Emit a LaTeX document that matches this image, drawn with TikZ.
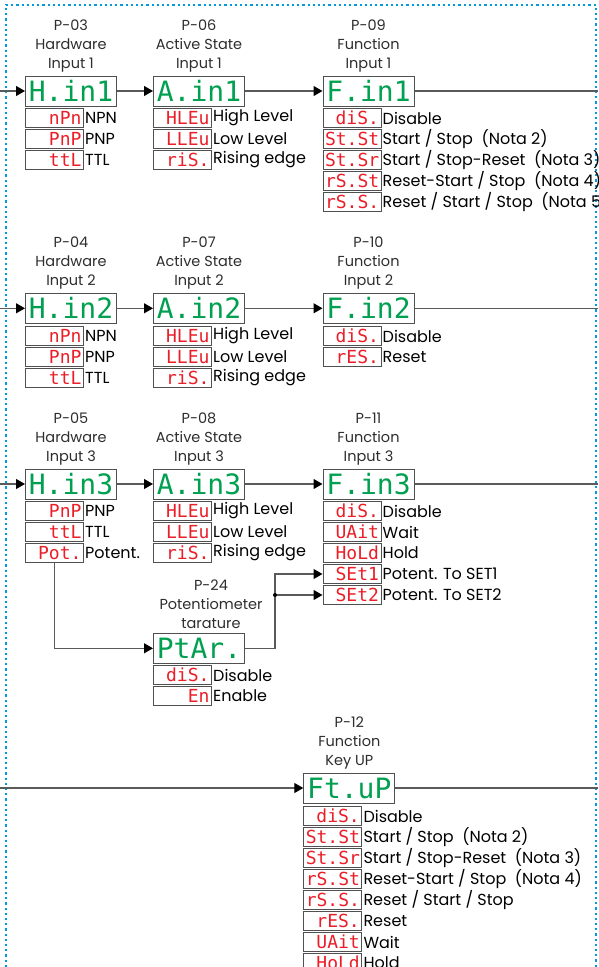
\documentclass[tikz,border=0pt]{standalone}
\usepackage{fontspec}
\setmainfont{Poppins}
\newfontfamily\segfont{DejaVu Sans Mono}
\usetikzlibrary{arrows.meta, positioning, calc}
\definecolor{segGreen}{RGB}{0,160,80}
\definecolor{segRed}{RGB}{235,30,40}
\definecolor{frameGray}{RGB}{80,80,80}
\definecolor{wireGray}{RGB}{90,90,90}
\definecolor{headGray}{RGB}{45,45,45}
\definecolor{dotBlue}{RGB}{0,155,220}

\tikzset{
  display/.style={draw=frameGray, line width=1pt, minimum width=91pt, minimum height=30pt,
    inner sep=0pt, anchor=west, text height=20.5pt, text depth=0pt,
    font=\segfont\fontsize{28}{28}\selectfont, text=segGreen},
  option/.style={draw=frameGray, line width=1pt, text width=54pt, minimum height=19.5pt,
    inner xsep=2pt, inner ysep=0pt, align=right, anchor=west, text height=13pt, text depth=0pt,
    font=\segfont\fontsize{18}{18}\selectfont, text=segRed},
  optlabel/.style={anchor=west, inner sep=1pt, font=\fontsize{16}{20}\selectfont, text=black},
  header/.style={align=center, inner sep=0pt, font=\fontsize{14.5}{19}\selectfont, text=headGray},
  wire/.style={draw=wireGray, line width=1.1pt},
  feed/.style={wire, -{Triangle[length=9pt,width=10pt,color=black]}}
}

\begin{document}
\begin{tikzpicture}[x=1pt, y=-1pt]
\useasboundingbox (0,0) rectangle (598,967);
\clip (0,0) rectangle (598,967);

% dotted frame
\draw[dotBlue, line width=2.2pt, dash pattern=on 2.2pt off 3pt] (6,967) -- (6,5) -- (596,5) -- (596,967);

% ---- input 1
\node[display] (hw1) at (25,91) {H.in1};
\node[display] (as1) at (153,91) {A.in1};
\node[display] (fn1) at (322.5,91) {F.in1};
\node[header, above=3.5pt of hw1] (hw1h) {P-03\\Hardware\\Input 1};
\node[header, above=3.5pt of as1] (as1h) {P-06\\Active State\\Input 1};
\node[header, above=3.5pt of fn1] (fn1h) {P-09\\Function\\Input 1};
\foreach \code/\lbl [count=\k] in {nPn/NPN, PnP/PNP, ttL/TTL} {
  \node[option] (hw1o\k) at (25,97+21*\k) {\code};
  \node[optlabel] (hw1l\k) at (hw1o\k.east) {\lbl};
}
\foreach \code/\lbl [count=\k] in {HLEu/High Level, LLEu/Low Level, riS./Rising edge} {
  \node[option] (as1o\k) at (153,97+21*\k) {\code};
  \node[optlabel] (as1l\k) at (as1o\k.east) {\lbl};
}
\foreach \code/\lbl [count=\k] in {diS./Disable, St.St/{Start / Stop\ \ (Nota 2)},
    St.Sr/{Start / Stop-Reset\ \ (Nota 3)}, rS.St/{Reset-Start / Stop\ \ (Nota 4)},
    rS.S./{Reset / Start / Stop\ \ (Nota 5)}} {
  \node[option] (fn1o\k) at (322.5,97+21*\k) {\code};
  \node[optlabel] (fn1l\k) at (fn1o\k.east) {\lbl};
}
\coordinate (inA) at (0,91);
\coordinate (outA) at (598,91);
\draw[feed] (inA) -- (hw1);
\draw[feed] (hw1) -- (as1);
\draw[feed] (as1) -- (fn1);
\draw[wire] (fn1) -- (outA);

% ---- input 2
\node[display] (hw2) at (25,308.3) {H.in2};
\node[display] (as2) at (153,308.3) {A.in2};
\node[display] (fn2) at (322.5,308.3) {F.in2};
\node[header, above=3.5pt of hw2] (hw2h) {P-04\\Hardware\\Input 2};
\node[header, above=3.5pt of as2] (as2h) {P-07\\Active State\\Input 2};
\node[header, above=3.5pt of fn2] (fn2h) {P-10\\Function\\Input 2};
\foreach \code/\lbl [count=\k] in {nPn/NPN, PnP/PNP, ttL/TTL} {
  \node[option] (hw2o\k) at (25,315+21*\k) {\code};
  \node[optlabel] (hw2l\k) at (hw2o\k.east) {\lbl};
}
\foreach \code/\lbl [count=\k] in {HLEu/High Level, LLEu/Low Level, riS./Rising edge} {
  \node[option] (as2o\k) at (153,315+21*\k) {\code};
  \node[optlabel] (as2l\k) at (as2o\k.east) {\lbl};
}
\foreach \code/\lbl [count=\k] in {diS./Disable, rES./Reset} {
  \node[option] (fn2o\k) at (322.5,315+21*\k) {\code};
  \node[optlabel] (fn2l\k) at (fn2o\k.east) {\lbl};
}
\coordinate (inB) at (0,308.3);
\coordinate (outB) at (598,308.3);
\draw[feed] (inB) -- (hw2);
\draw[feed] (hw2) -- (as2);
\draw[feed] (as2) -- (fn2);
\draw[wire] (fn2) -- (outB);

% ---- input 3
\node[display] (hw3) at (25,484) {H.in3};
\node[display] (as3) at (153,484) {A.in3};
\node[display] (fn3) at (322.5,484) {F.in3};
\node[header, above=3.5pt of hw3] (hw3h) {P-05\\Hardware\\Input 3};
\node[header, above=3.5pt of as3] (as3h) {P-08\\Active State\\Input 3};
\node[header, above=3.5pt of fn3] (fn3h) {P-11\\Function\\Input 3};
\foreach \code/\lbl [count=\k] in {PnP/PNP, ttL/TTL, Pot./Potent.} {
  \node[option] (hw3o\k) at (25,490+21*\k) {\code};
  \node[optlabel] (hw3l\k) at (hw3o\k.east) {\lbl};
}
\foreach \code/\lbl [count=\k] in {HLEu/High Level, LLEu/Low Level, riS./Rising edge} {
  \node[option] (as3o\k) at (153,490+21*\k) {\code};
  \node[optlabel] (as3l\k) at (as3o\k.east) {\lbl};
}
\foreach \code/\lbl [count=\k] in {diS./Disable, UAit/Wait, HoLd/Hold,
    SEt1/Potent. To SET1, SEt2/Potent. To SET2} {
  \node[option] (fn3o\k) at (322.5,490+21*\k) {\code};
  \node[optlabel] (fn3l\k) at (fn3o\k.east) {\lbl};
}
\coordinate (inC) at (0,484);
\coordinate (outC) at (598,484);
\draw[feed] (inC) -- (hw3);
\draw[feed] (hw3) -- (as3);
\draw[feed] (as3) -- (fn3);
\draw[wire] (fn3) -- (outC);

% potentiometer
\node[display] (pt) at (153,648.3) {PtAr.};
\node[header, above=3.5pt of pt, xshift=12pt] (pth) {P-24\\Potentiometer\\tarature};
\foreach \code/\lbl [count=\k] in {diS./Disable, En/Enable} {
  \node[option] (pto\k) at (153,654+21*\k) {\code};
  \node[optlabel] (ptl\k) at (pto\k.east) {\lbl};
}
\draw[feed] (hw3o3.south) |- (pt.west);
\coordinate (split) at ($(fn3o5.west)+(-47.5,0)$);
\draw[feed] (pt.east) -| (split |- fn3o4.west) -- (fn3o4.west);
\draw[feed] (split) -- (fn3o5.west);
\fill[black] (split) circle (2pt);

% ---- key up
\node[display] (fk) at (303.3,788) {Ft.uP};
\node[header, above=3.5pt of fk] (fkh) {P-12\\Function\\Key UP};
\foreach \code/\lbl [count=\k] in {diS./Disable, St.St/{Start / Stop\ \ (Nota 2)},
    St.Sr/{Start / Stop-Reset\ \ (Nota 3)}, rS.St/{Reset-Start / Stop\ \ (Nota 4)},
    rS.S./{Reset / Start / Stop}, rES./Reset, UAit/Wait, HoLd/Hold} {
  \node[option] (fko\k) at (303.3,795+21*\k) {\code};
  \node[optlabel] (fkl\k) at (fko\k.east) {\lbl};
}
\coordinate (inD) at (0,788);
\coordinate (outD) at (598,788);
\draw[feed] (inD) -- (fk);
\draw[wire] (fk) -- (outD);
\end{tikzpicture}
\end{document}
